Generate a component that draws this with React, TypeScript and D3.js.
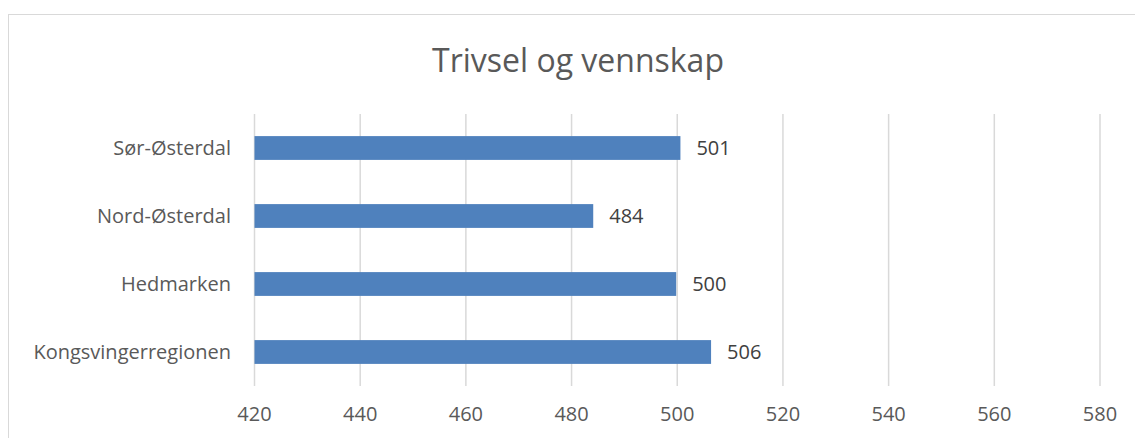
import React from "react";
import * as d3 from "d3";

const categories = ["Sør-Østerdal", "Nord-Østerdal", "Hedmarken", "Kongsvingerregionen"];
const values = [500.6, 484.1, 499.8, 506.4];
const valueLabels = ["501", "484", "500", "506"];
const xTicks = [420, 440, 460, 480, 500, 520, 540, 560, 580];
const title = "Trivsel og vennskap";

const W = 1135;
const H = 438;
const FONT = "'Open Sans', 'Noto Sans', sans-serif";

export default function App() {
  const x = d3.scaleLinear().domain([420, 580]).range([254.5, 1100]);
  const y = d3.scaleBand<string>().domain(categories).range([114, 386]).paddingInner(0.65).paddingOuter(0.325);

  return (
    <svg width={W} height={H} style={{ position: "absolute", left: 0, top: 0 }}>
      <rect x={0} y={0} width={W} height={H} fill="#fff" />
      <rect x={8.5} y={14.5} width={W + 20} height={H + 20} fill="none" stroke="#d9d9d9" strokeWidth={1} />
      <text x={578} y={72} textAnchor="middle" fontFamily={FONT} fontSize={32} fill="#595959">{title}</text>
      {xTicks.map((t) => (
        <g key={t}>
          <line x1={x(t)} x2={x(t)} y1={114} y2={386} stroke="#d9d9d9" strokeWidth={1.5} />
          <text x={x(t)} y={421} textAnchor="middle" fontFamily={FONT} fontSize={20} fill="#595959">{t}</text>
        </g>
      ))}
      {categories.map((c, i) => (
        <g key={c}>
          <rect x={x(420)} y={y(c)!} width={x(values[i]) - x(420)} height={y.bandwidth()} fill="#4F81BD" />
          <text x={x(values[i]) + 16} y={y(c)! + y.bandwidth() / 2} dy="0.35em" fontFamily={FONT} fontSize={20} fill="#404040">{valueLabels[i]}</text>
          <text x={231} y={y(c)! + y.bandwidth() / 2} dy="0.35em" textAnchor="end" fontFamily={FONT} fontSize={20} fill="#595959">{c}</text>
        </g>
      ))}
    </svg>
  );
}
